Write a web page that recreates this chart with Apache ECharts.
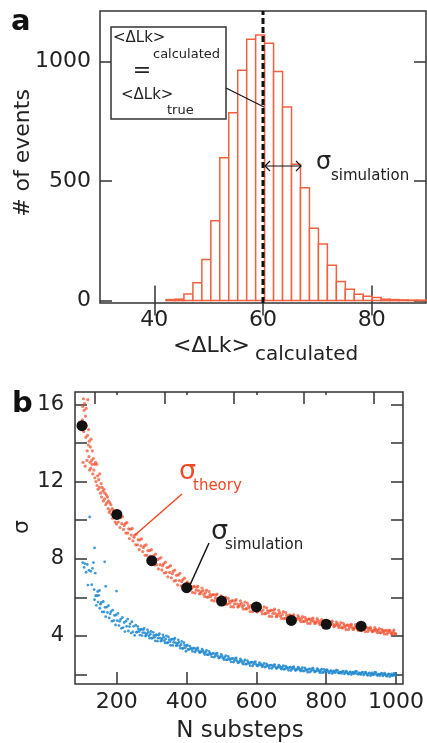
<!DOCTYPE html>
<html>
<head>
    <meta charset="utf-8">
    <title>sigma</title>
    <script src="https://cdn.jsdelivr.net/npm/echarts@6.0.0/dist/echarts.min.js"></script>
    <style>
        body { margin: 0; background: #fff; }
        #main { width: 427px; height: 743px; }
    </style>
</head>
<body>
<div id="main"></div>
<script type="text/javascript">

    // panel a: histogram of <dLk> calculated
    var binEdges = [42.15, 43.8, 45.45, 47.1, 48.75, 50.4, 52.05, 53.7, 55.35, 57.0, 58.65, 60.3, 61.95, 63.6,
        65.25, 66.9, 68.55, 70.2, 71.85, 73.5, 75.15, 76.8, 78.45, 80.1, 81.75, 83.4, 85.05, 86.7, 88.35, 90.0];
    var counts = [4, 6, 28, 75, 172, 334, 597, 785, 962, 1092, 1110, 1075, 957, 809, 570, 472, 302, 236, 148,
        80, 47, 27, 18, 13, 6, 4, 3, 2, 2];
    var trueValue = 60;
    var histXTicks = [40, 60, 80];
    var histYTicks = [0, 500, 1000];

    // panel b: sigma vs N substeps
    var simN = [100, 200, 300, 400, 500, 600, 700, 800, 900];
    var simSigma = [14.9, 10.3, 7.9, 6.5, 5.8, 5.5, 4.8, 4.6, 4.5];
    var sigXLabels = [200, 400, 600, 800, 1000];
    var sigXTopTicks = [136, 336, 536, 736, 936];
    var sigXTopMinor = [200, 400, 600, 800];
    var sigYLabels = [4, 8, 12, 16];
    var sigYTicks = [2, 4, 6, 8, 10, 12, 14, 16];

    var theoryPts = [
        [101,15.2],[102,15.9],[103,13.0],[104,16.3],[105,14.6],[106,15.7],[107,16.05],[108,15.0],[109,12.8],[110,15.4],
        [111,14.3],[112,15.8],[113,14.9],[114,13.1],[115,13.6],[116,14.4],[117,16.25],[118,13.9],[119,14.7],[120,13.3],
        [121,14.1],[122,12.6],[123,13.0],[124,13.8],[125,12.7],[126,14.2],[128,13.1],[129,12.9],[130,13.6],[131,12.4],
        [133,13.2],[134,12.6],[136,12.9],[137,12.2],[139,13.0],[140,12.0],[142,12.9],[143,11.8],[145,12.3],[146,11.6],
        [148,12.1],[150,11.7],[151,12.4],[153,11.4],[155,11.9],[156,11.2],[158,11.7],[160,11.5],[161,11.0],[163,11.6],
        [165,11.1],[166,11.4],[168,10.8],[170,11.3],[171,10.9],[173,11.2],[175,10.6],[176,11.0],[178,10.4],[180,10.9],
        [181,10.5],[183,10.8],[185,10.3],[187,10.6],[188,10.1],[190,10.5],[192,10.2],[194,10.4],[195,9.9],[197,10.3],
        [199,9.8],
        [201,10.5],[204,9.9],[206,10.15],[209,9.62],[211,10.13],[214,9.82],[216,10.18],[219,9.52],[221,9.73],[224,9.82],
        [226,9.33],[229,9.87],[231,9.33],[234,9.55],[236,9.05],[239,9.53],[241,9.23],[244,9.57],[246,8.93],[249,9.12],
        [251,9.23],[254,8.72],[256,9.28],[259,8.72],[261,8.98],[264,8.47],[266,8.98],[269,8.67],[271,9.03],[274,8.37],
        [276,8.58],[279,8.67],[281,8.18],[284,8.72],[286,8.18],[289,8.42],[291,7.93],[294,8.42],[296,8.13],[299,8.47],
        [301,7.83],[304,8.04],[306,8.16],[309,7.67],[311,8.24],[314,7.69],[316,7.96],[319,7.47],[321,7.99],[324,7.69],
        [326,8.06],[329,7.42],[331,7.64],[334,7.74],[336,7.26],[339,7.82],[341,7.29],[344,7.54],[346,7.06],[349,7.57],
        [351,7.29],[354,7.64],[356,7.01],[359,7.22],[361,7.34],[364,6.84],[366,7.41],[369,6.87],[371,7.14],[374,6.64],
        [376,7.16],[379,6.87],[381,7.24],[384,6.59],[386,6.81],[389,6.92],[391,6.44],[394,6.99],[396,6.46],[399,6.72],
        [402,6.79],[407,6.43],[412,6.56],[417,6.25],[422,6.56],[427,6.37],[432,6.58],[437,6.17],[442,6.29],[447,6.35],
        [452,6.03],[457,6.37],[462,6.02],[467,6.15],[472,5.84],[477,6.14],[482,5.96],[487,6.17],[492,5.76],[497,5.87],
        [502,5.94],[507,5.64],[512,6.0],[517,5.65],[522,5.80],[527,5.51],[532,5.83],[537,5.65],[542,5.88],[547,5.49],
        [552,5.62],[557,5.69],[562,5.39],[567,5.75],[572,5.41],[577,5.55],[582,5.26],[587,5.58],[592,5.41],[597,5.63],
        [602,5.24],[607,5.37],[612,5.45],[617,5.14],[622,5.50],[627,5.16],[632,5.31],[637,5.01],[642,5.33],[647,5.16],
        [652,5.39],[657,4.99],[662,5.12],[667,5.20],[672,4.90],[677,5.25],[682,4.91],[687,5.06],[692,4.77],[697,5.08],
        [702,4.92],[707,5.09],[712,4.80],[717,4.90],[722,4.95],[727,4.74],[732,5.00],[737,4.74],[742,4.86],[747,4.65],
        [752,4.88],[757,4.76],[762,4.92],[767,4.64],[772,4.73],[777,4.79],[782,4.57],[787,4.84],[792,4.57],[797,4.70],
        [802,4.48],[807,4.72],[812,4.60],[817,4.76],[822,4.48],[827,4.58],[832,4.63],[837,4.42],[842,4.69],[847,4.41],
        [852,4.53],[857,4.32],[862,4.56],[867,4.44],[872,4.59],[877,4.33],[882,4.43],[887,4.48],[892,4.28],[897,4.52],
        [902,4.29],[907,4.40],[912,4.22],[917,4.42],[922,4.31],[927,4.43],[932,4.21],[937,4.29],[942,4.34],[947,4.16],
        [952,4.38],[957,4.16],[962,4.27],[967,4.10],[972,4.29],[977,4.18],[982,4.29],[987,4.09],[992,4.20],[997,4.10],
        [404,6.42],[409,6.71],[414,6.45],[419,6.54],[424,6.22],[429,6.52],[434,6.35],[439,6.21],[444,6.48],[449,6.16],
        [454,6.23],[459,6.01],[464,6.30],[469,6.03],[474,6.13],[479,5.81],[484,6.11],[489,5.93],[494,5.80],[499,6.07],
        [504,5.76],[509,5.84],[514,5.64],[519,5.94],[524,5.69],[529,5.80],[534,5.50],[539,5.81],[544,5.65],[549,5.53],
        [554,5.82],[559,5.51],[564,5.59],[569,5.39],[574,5.70],[579,5.44],[584,5.55],[589,5.25],[594,5.57],[599,5.40],
        [604,5.28],[609,5.57],[614,5.27],[619,5.34],[624,5.14],[629,5.45],[634,5.20],[639,5.30],[644,5.00],[649,5.32],
        [654,5.16],[659,5.03],[664,5.32],[669,5.02],[674,5.10],[679,4.89],[684,5.20],[689,4.95],[694,5.06],[699,4.75],
        [704,5.04],[709,4.92],[714,4.83],[719,5.05],[724,4.83],[729,4.88],[734,4.74],[739,4.96],[744,4.78],[749,4.86],
        [754,4.64],[759,4.87],[764,4.76],[769,4.66],[774,4.89],[779,4.66],[784,4.72],[789,4.57],[794,4.80],[799,4.61],
        [804,4.70],[809,4.48],[814,4.71],[819,4.60],[824,4.51],[829,4.73],[834,4.51],[839,4.56],[844,4.42],[849,4.65],
        [854,4.46],[859,4.55],[864,4.33],[869,4.56],[874,4.45],[879,4.36],[884,4.58],[889,4.36],[894,4.42],[899,4.27],
        [904,4.47],[909,4.33],[914,4.40],[919,4.22],[924,4.40],[929,4.31],[934,4.24],[939,4.42],[944,4.24],[949,4.29],
        [954,4.17],[959,4.34],[964,4.20],[969,4.27],[974,4.09],[979,4.28],[984,4.19],[989,4.12],[994,4.30],[999,4.11]
    ];

    var bluePts = [
        [102,7.8],[106,7.55],[108,7.75],[112,7.3],[115,7.7],[117,6.63],[120,7.4],[122,10.17],[125,7.35],[128,6.65],
        [130,7.5],[133,7.8],[136,8.56],[138,7.25],[145,6.3],[150,6.35],[165,7.84],[168,6.57],[199,6.32],
        [135,6.4],[136,5.87],[139,6.08],[141,5.58],[143,6.08],[146,5.75],[148,6.10],[151,5.43],[153,5.64],[156,5.73],
        [158,5.24],[161,5.78],[163,5.24],[166,5.48],[168,4.99],[171,5.49],[173,5.21],[176,5.56],[178,4.93],[181,5.14],
        [183,5.26],[186,4.76],[188,5.33],[191,4.79],[193,5.06],[196,4.56],[198,5.08],[201,4.79],[203,5.16],[206,4.53],
        [208,4.75],[211,4.86],[213,4.39],[216,4.95],[218,4.43],[221,4.69],[223,4.22],[226,4.76],[228,4.49],[231,4.87],
        [233,4.25],[236,4.48],[238,4.62],[241,4.14],[243,4.73],[246,4.20],[248,4.49],[251,4.02],
        [254,4.55],[258,4.20],[262,4.34],[266,4.04],[270,4.35],[274,4.17],[278,4.39],[282,3.99],[286,4.11],[290,4.19],
        [294,3.88],[298,4.23],[302,3.89],[306,4.03],[310,3.74],[314,4.06],[318,3.88],[322,4.11],[326,3.72],[330,3.85],
        [334,3.93],[338,3.63],[342,3.99],[346,3.65],[350,3.80],[354,3.51],[358,3.83],[362,3.66],[366,3.88],[370,3.48],
        [374,3.60],[378,3.67],[382,3.36],[386,3.71],[390,3.36],[394,3.50],[398,3.20],
        [256,4.18],[260,4.48],[264,4.22],[268,4.32],[272,4.01],[276,4.32],[280,4.15],[284,4.02],[288,4.31],[292,4.00],
        [296,4.08],[300,3.87],[304,4.18],[308,3.92],[312,4.03],[316,3.72],[320,4.04],[324,3.88],[328,3.76],[332,4.05],
        [336,3.75],[340,3.83],[344,3.63],[348,3.94],[352,3.69],[356,3.80],[360,3.50],[364,3.81],[368,3.64],[372,3.51],
        [376,3.79],[380,3.48],[384,3.55],[388,3.34],[392,3.64],[396,3.38],[400,3.48],
        [402,3.51],[407,3.30],[412,3.37],[417,3.19],[422,3.36],[427,3.25],[432,3.37],[437,3.13],[442,3.19],[447,3.23],
        [452,3.03],[457,3.24],[462,3.02],[467,3.10],[472,2.91],[477,3.09],[482,2.97],[487,3.10],[492,2.85],[497,2.92],
        [502,2.95],[507,2.76],[512,2.97],[517,2.76],[522,2.83],[527,2.65],[532,2.83],[537,2.72],[542,2.85],[547,2.60],
        [552,2.67],[557,2.72],[562,2.53],[567,2.75],[572,2.54],[577,2.62],[582,2.45],[587,2.63],[592,2.53],[597,2.66],
        [602,2.44],[607,2.50],[612,2.54],[617,2.39],[622,2.57],[627,2.40],[632,2.47],[637,2.32],[642,2.48],[647,2.39],
        [652,2.51],[657,2.31],[662,2.38],[667,2.42],[672,2.27],[677,2.45],[682,2.28],[687,2.36],[692,2.21],[697,2.37],
        [702,2.28],[707,2.40],[712,2.20],[717,2.27],[722,2.32],[727,2.17],[732,2.35],[737,2.18],[742,2.26],[747,2.11],
        [752,2.28],[757,2.19],[762,2.32],[767,2.12],[772,2.19],[777,2.24],[782,2.09],[787,2.27],[792,2.11],[797,2.19],
        [802,2.24],[807,2.10],[812,2.17],[817,2.05],[822,2.18],[827,2.12],[832,2.21],[837,2.06],[842,2.11],[847,2.14],
        [852,2.03],[857,2.17],[862,2.04],[867,2.10],[872,1.99],[877,2.12],[882,2.06],[887,2.15],[892,2.00],[897,2.05],
        [902,2.09],[907,1.97],[912,2.12],[917,1.98],[922,2.05],[927,1.93],[932,2.07],[937,2.00],[942,2.10],[947,1.94],
        [952,2.00],[957,2.03],[962,1.92],[967,2.06],[972,1.93],[977,1.99],[982,1.88],[987,2.02],[992,1.95],[997,2.03],
        [404,3.29],[409,3.47],[414,3.30],[419,3.36],[424,3.16],[429,3.34],[434,3.23],[439,3.15],[444,3.31],[449,3.12],
        [454,3.15],[459,3.02],[464,3.19],[469,3.03],[474,3.08],[479,2.89],[484,3.06],[489,2.96],[494,2.87],[499,3.04],
        [504,2.84],[509,2.88],[514,2.75],[519,2.93],[524,2.76],[529,2.82],[534,2.63],[539,2.81],[544,2.71],[549,2.62],
        [554,2.80],[559,2.61],[564,2.66],[569,2.53],[574,2.71],[579,2.56],[584,2.62],[589,2.44],[594,2.62],[599,2.52],
        [604,2.46],[609,2.61],[614,2.46],[619,2.49],[624,2.38],[629,2.54],[634,2.42],[639,2.47],[644,2.31],[649,2.47],
        [654,2.39],[659,2.33],[664,2.48],[669,2.33],[674,2.37],[679,2.26],[684,2.42],[689,2.30],[694,2.35],[699,2.20],
        [704,2.36],[709,2.29],[714,2.23],[719,2.38],[724,2.23],[729,2.27],[734,2.17],[739,2.33],[744,2.21],[749,2.26],
        [754,2.12],[759,2.28],[764,2.21],[769,2.15],[774,2.30],[779,2.16],[784,2.20],[789,2.09],[794,2.26],[799,2.14],
        [804,2.19],[809,2.07],[814,2.19],[819,2.14],[824,2.09],[829,2.22],[834,2.09],[839,2.12],[844,2.05],[849,2.17],
        [854,2.08],[859,2.12],[864,2.01],[869,2.13],[874,2.07],[879,2.03],[884,2.16],[889,2.03],[894,2.07],[899,1.99],
        [904,2.12],[909,2.02],[914,2.07],[919,1.95],[924,2.08],[929,2.02],[934,1.98],[939,2.10],[944,1.98],[949,2.01],
        [954,1.94],[959,2.06],[964,1.97],[969,2.01],[974,1.90],[979,2.03],[984,1.97],[989,1.93],[994,2.05],[999,1.93]
    ];

    var FONT = 'DejaVu Sans';
    var AXC = '#333';
    var RED = '#f24a26';
    var HIST = '#f2613f';
    var BLUE = '#1f88d0';

    var histData = [];
    for (var i = 0; i < counts.length; i++) {
        histData.push([binEdges[i], binEdges[i + 1], counts[i]]);
    }
    var simData = simN.map(function (n, k) { return [n, simSigma[k]]; });

    function tick(vals, len) {
        return {show: true, inside: true, length: len, customValues: vals, lineStyle: {color: AXC, width: 1.5}};
    }
    function label(vals, margin, size) {
        return {customValues: vals, margin: margin, color: '#222', fontSize: size, fontFamily: FONT,
            formatter: function (v) { return '' + v; }};
    }
    function noLabel() { return {show: false}; }

    var myChart = echarts.init(document.getElementById('main'));

    var option = {
        animation: false,
        backgroundColor: '#fff',
        grid: [
            {left: 100, right: 1, top: 11, height: 292, show: true, borderColor: AXC, borderWidth: 1.5},
            {left: 75, width: 329, top: 392, height: 292, show: true, borderColor: AXC, borderWidth: 1.5}
        ],
        xAxis: [
            {gridIndex: 0, type: 'value', min: 30, max: 90, axisLine: {show: false}, splitLine: {show: false},
                axisTick: tick(histXTicks, 15), axisLabel: label(histXTicks, 6, 22)},
            {gridIndex: 0, type: 'value', position: 'top', min: 30, max: 90, axisLine: {show: false},
                splitLine: {show: false}, axisTick: tick(histXTicks, 15), axisLabel: noLabel()},
            {gridIndex: 1, type: 'value', min: 80, max: 1020, axisLine: {show: false}, splitLine: {show: false},
                axisTick: tick(sigXLabels, 12), axisLabel: label(sigXLabels, 7, 22)},
            {gridIndex: 1, type: 'value', position: 'top', min: 80, max: 1020, axisLine: {show: false},
                splitLine: {show: false}, axisTick: tick(sigXTopTicks, 12), axisLabel: noLabel()},
            {gridIndex: 1, type: 'value', position: 'top', min: 80, max: 1020, axisLine: {show: false},
                splitLine: {show: false}, axisTick: tick(sigXTopMinor, 3), axisLabel: noLabel()}
        ],
        yAxis: [
            {gridIndex: 0, type: 'value', min: -10, max: 1210, axisLine: {show: false}, splitLine: {show: false},
                axisTick: tick(histYTicks, 12), axisLabel: label(histYTicks, 9, 22)},
            {gridIndex: 0, type: 'value', position: 'right', min: -10, max: 1210, axisLine: {show: false},
                splitLine: {show: false}, axisTick: tick(histYTicks, 12), axisLabel: noLabel()},
            {gridIndex: 1, type: 'value', min: 1.5, max: 16.65, axisLine: {show: false}, splitLine: {show: false},
                axisTick: tick(sigYTicks, 12), axisLabel: label(sigYLabels, 11, 21)},
            {gridIndex: 1, type: 'value', position: 'right', min: 1.5, max: 16.65, axisLine: {show: false},
                splitLine: {show: false}, axisTick: tick(sigYTicks, 12), axisLabel: noLabel()}
        ],
        series: [
            {
                type: 'custom', xAxisIndex: 0, yAxisIndex: 0, data: histData,
                encode: {x: [0, 1], y: 2},
                renderItem: function (params, api) {
                    var p0 = api.coord([api.value(0), api.value(2)]);
                    var p1 = api.coord([api.value(1), 0]);
                    return {
                        type: 'rect',
                        shape: {x: p0[0], y: p0[1], width: p1[0] - p0[0], height: p1[1] - p0[1]},
                        style: {fill: '#fff', stroke: HIST, lineWidth: 1.5}
                    };
                }
            },
            {
                type: 'line', xAxisIndex: 0, yAxisIndex: 0, z: 5, symbol: 'none',
                data: [[trueValue, -10], [trueValue, 1210]],
                lineStyle: {color: '#111', width: 3, type: [6, 3]}
            },
            {
                type: 'scatter', xAxisIndex: 2, yAxisIndex: 2, data: bluePts,
                symbolSize: 2.8, itemStyle: {color: BLUE, opacity: 0.85}
            },
            {
                type: 'scatter', xAxisIndex: 2, yAxisIndex: 2, data: theoryPts,
                symbolSize: 3.2, itemStyle: {color: RED, opacity: 0.7}
            },
            {
                type: 'scatter', xAxisIndex: 2, yAxisIndex: 2, data: simData, z: 4,
                symbolSize: 11, itemStyle: {color: '#111', opacity: 1}
            }
        ],
        graphic: [
            // panel a
            {type: 'text', x: 11, y: 22, style: {text: 'a', font: 'bold 29px ' + FONT, fill: '#111', verticalAlign: 'middle'}},
            {type: 'text', x: 23, y: 153, rotation: Math.PI / 2,
                style: {text: '# of events', font: '22px ' + FONT, fill: '#222', align: 'center', verticalAlign: 'middle'}},
            {type: 'text', x: 173, y: 346, style: {text: '<ΔLk>', font: '22px ' + FONT, fill: '#222', verticalAlign: 'middle'}},
            {type: 'text', x: 255, y: 355, style: {text: 'calculated', font: '20px ' + FONT, fill: '#222', verticalAlign: 'middle'}},
            {type: 'rect', z: 10, shape: {x: 111, y: 27, width: 115, height: 92},
                style: {fill: '#fff', stroke: AXC, lineWidth: 1.5}},
            {type: 'text', z: 11, x: 113, y: 38, style: {text: '<ΔLk>', font: '15px ' + FONT, fill: '#222', verticalAlign: 'middle'}},
            {type: 'text', z: 11, x: 153, y: 55, style: {text: 'calculated', font: '13px ' + FONT, fill: '#222', verticalAlign: 'middle'}},
            {type: 'text', z: 11, x: 142, y: 71, style: {text: '=', font: '22px ' + FONT, fill: '#222', align: 'center', verticalAlign: 'middle'}},
            {type: 'text', z: 11, x: 121, y: 95, style: {text: '<ΔLk>', font: '15px ' + FONT, fill: '#222', verticalAlign: 'middle'}},
            {type: 'text', z: 11, x: 167, y: 111, style: {text: 'true', font: '13px ' + FONT, fill: '#222', verticalAlign: 'middle'}},
            {type: 'line', z: 11, shape: {x1: 226, y1: 88, x2: 264, y2: 107}, style: {stroke: '#111', lineWidth: 1.2}},
            {type: 'line', z: 11, shape: {x1: 265, y1: 166, x2: 301, y2: 166}, style: {stroke: '#111', lineWidth: 1.2}},
            {type: 'polyline', z: 11, shape: {points: [[270, 161], [265, 166], [270, 171]]}, style: {stroke: '#111', fill: null, lineWidth: 1.2}},
            {type: 'polyline', z: 11, shape: {points: [[296, 161], [301, 166], [296, 171]]}, style: {stroke: '#111', fill: null, lineWidth: 1.2}},
            {type: 'text', z: 11, x: 316, y: 163, style: {text: 'σ', font: '24px ' + FONT, fill: '#222', verticalAlign: 'middle'}},
            {type: 'text', z: 11, x: 331, y: 176, style: {text: 'simulation', font: '15px ' + FONT, fill: '#222', verticalAlign: 'middle'}},
            // panel b
            {type: 'text', x: 12, y: 404, style: {text: 'b', font: 'bold 29px ' + FONT, fill: '#111', verticalAlign: 'middle'}},
            {type: 'text', x: 22, y: 527, rotation: Math.PI / 2,
                style: {text: 'σ', font: '22px ' + FONT, fill: '#222', align: 'center', verticalAlign: 'middle'}},
            {type: 'text', x: 240, y: 731, style: {text: 'N substeps', font: '23px ' + FONT, fill: '#222', align: 'center', verticalAlign: 'middle'}},
            {type: 'text', z: 11, x: 179, y: 472, style: {text: 'σ', font: '27px ' + FONT, fill: RED, verticalAlign: 'middle'}},
            {type: 'text', z: 11, x: 193, y: 486, style: {text: 'theory', font: '15px ' + FONT, fill: RED, verticalAlign: 'middle'}},
            {type: 'line', z: 11, shape: {x1: 182, y1: 494, x2: 135, y2: 535}, style: {stroke: RED, lineWidth: 1.5}},
            {type: 'text', z: 11, x: 211, y: 532, style: {text: 'σ', font: '27px ' + FONT, fill: '#222', verticalAlign: 'middle'}},
            {type: 'text', z: 11, x: 225, y: 545, style: {text: 'simulation', font: '15px ' + FONT, fill: '#222', verticalAlign: 'middle'}},
            {type: 'line', z: 11, shape: {x1: 209, y1: 543, x2: 190, y2: 585}, style: {stroke: '#111', lineWidth: 1.5}}
        ]
    };

    myChart.setOption(option);

</script>
</body>
</html>
